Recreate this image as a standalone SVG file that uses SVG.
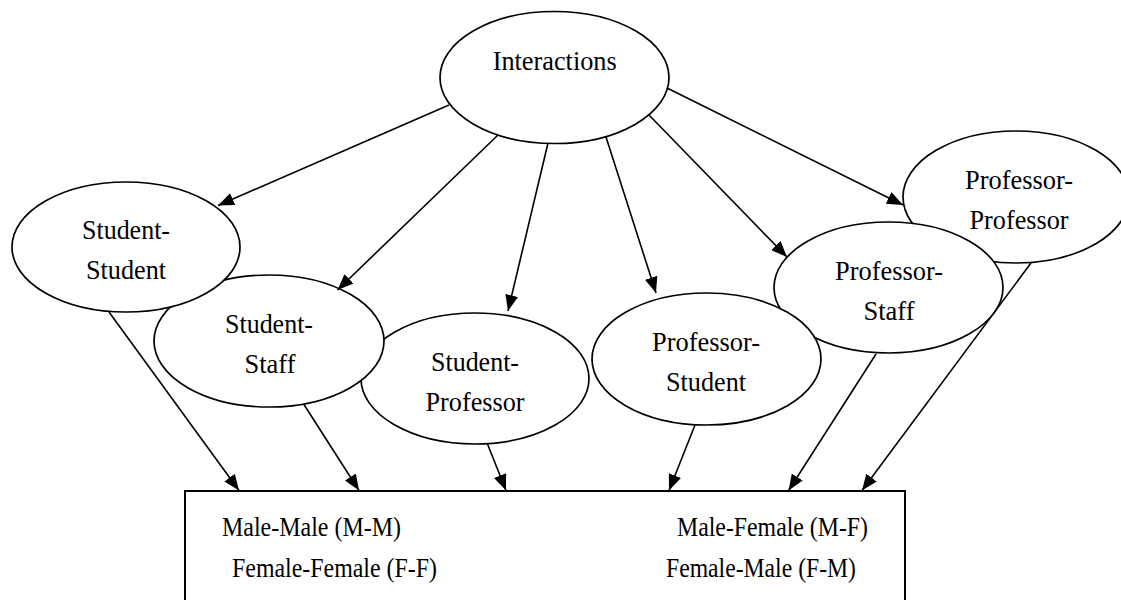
<svg xmlns="http://www.w3.org/2000/svg" width="1121" height="600" viewBox="0 0 1121 600">
<style>
.node ellipse{fill:#fff;stroke:#000;stroke-width:1.7}
.edge{stroke:#000;stroke-width:1.6;fill:none;marker-end:url(#ah)}
</style>
<defs>
<marker id="ah" markerUnits="userSpaceOnUse" viewBox="0 0 16 13" markerWidth="16" markerHeight="13" refX="16" refY="6.5" orient="auto">
<path d="M0,0 L16,6.5 L0,13 z" fill="#000"/>
</marker>
</defs>
<rect width="1121" height="600" fill="#fff"/>
<g font-family="Liberation Serif" font-size="28" fill="#000">
<g id="box">
<rect x="185" y="491" width="720" height="130" fill="#fff" stroke="#000" stroke-width="2"/>
<text x="222" y="536" textLength="179" lengthAdjust="spacingAndGlyphs">Male-Male (M-M)</text>
<text x="232" y="577" textLength="205" lengthAdjust="spacingAndGlyphs">Female-Female (F-F)</text>
<text x="677" y="536" textLength="191" lengthAdjust="spacingAndGlyphs">Male-Female (M-F)</text>
<text x="666" y="577" textLength="190" lengthAdjust="spacingAndGlyphs">Female-Male (F-M)</text>
</g>
<g text-anchor="middle">
<g id="prof-prof" class="node">
<ellipse cx="1016" cy="197" rx="113" ry="66"/>
<text x="1019" y="189" textLength="108" lengthAdjust="spacingAndGlyphs">Professor-</text>
<text x="1019" y="229" textLength="99" lengthAdjust="spacingAndGlyphs">Professor</text>
</g>
<g id="prof-staff" class="node">
<ellipse cx="888.5" cy="287.5" rx="114.5" ry="65.5"/>
<text x="889" y="279.5" textLength="108" lengthAdjust="spacingAndGlyphs">Professor-</text>
<text x="889" y="319.5" textLength="51" lengthAdjust="spacingAndGlyphs">Staff</text>
</g>
<g id="prof-student" class="node">
<ellipse cx="706.5" cy="359" rx="114.5" ry="66"/>
<text x="706" y="351" textLength="108" lengthAdjust="spacingAndGlyphs">Professor-</text>
<text x="706" y="391" textLength="80" lengthAdjust="spacingAndGlyphs">Student</text>
</g>
<g id="student-prof" class="node">
<ellipse cx="475" cy="378.5" rx="114" ry="65.5"/>
<text x="475" y="370.5" textLength="88" lengthAdjust="spacingAndGlyphs">Student-</text>
<text x="475" y="410.5" textLength="99" lengthAdjust="spacingAndGlyphs">Professor</text>
</g>
<g id="student-staff" class="node">
<ellipse cx="269" cy="341" rx="115" ry="66"/>
<text x="269" y="333" textLength="88" lengthAdjust="spacingAndGlyphs">Student-</text>
<text x="270" y="373" textLength="51" lengthAdjust="spacingAndGlyphs">Staff</text>
</g>
<g id="student-student" class="node">
<ellipse cx="126" cy="247" rx="114" ry="65"/>
<text x="126" y="239.3" textLength="88" lengthAdjust="spacingAndGlyphs">Student-</text>
<text x="126" y="279.3" textLength="80" lengthAdjust="spacingAndGlyphs">Student</text>
</g>
<g id="interactions" class="node">
<ellipse cx="554.5" cy="77.5" rx="114.5" ry="66"/>
<text x="554.7" y="69.5" textLength="124" lengthAdjust="spacingAndGlyphs">Interactions</text>
</g>
</g>
</g>
<g id="connectors">
<line class="edge" x1="449" y1="105" x2="218" y2="205.5"/>
<line class="edge" x1="498" y1="135" x2="337.5" y2="290"/>
<line class="edge" x1="548" y1="143" x2="508" y2="311"/>
<line class="edge" x1="606" y1="137" x2="656" y2="293"/>
<line class="edge" x1="649" y1="115" x2="787" y2="257"/>
<line class="edge" x1="667" y1="88" x2="903" y2="205"/>
<line class="edge" x1="109" y1="312" x2="239" y2="490.5"/>
<line class="edge" x1="303.6" y1="404" x2="359" y2="490.5"/>
<line class="edge" x1="487.5" y1="444" x2="506" y2="490.5"/>
<line class="edge" x1="695" y1="425" x2="669" y2="490.5"/>
<line class="edge" x1="876" y1="354" x2="788.6" y2="490.5"/>
<line class="edge" x1="1031" y1="263" x2="862" y2="490.5"/>
</g>
</svg>
